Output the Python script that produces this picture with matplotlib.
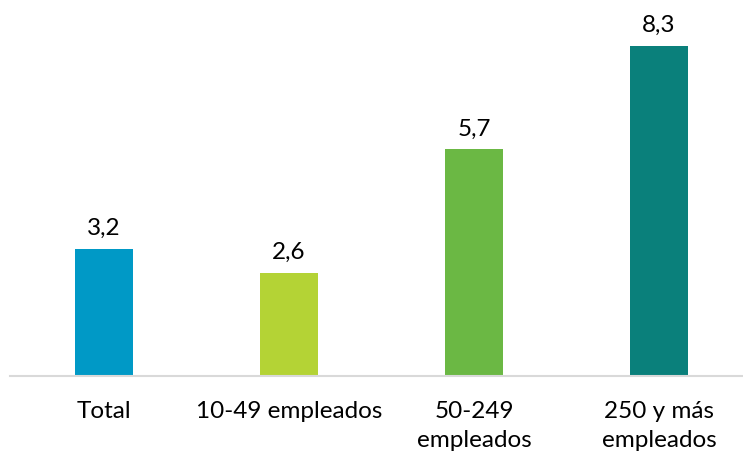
import matplotlib.pyplot as plt

categories = ['Total', '10-49 empleados', '50-249\nempleados', '250 y más\nempleados']
values = [3.2, 2.6, 5.7, 8.3]
colors = ['#0099C6', '#B4D335', '#6BB844', '#0A807B']

plt.rcParams['font.family'] = ['Lato', 'DejaVu Sans']

W, H = 743, 454
fig = plt.figure(figsize=(W / 100, H / 100), dpi=100)
ax = fig.add_axes([10 / W, 78 / H, 733 / W, 358 / H])

x = range(len(categories))
bars = ax.bar(x, values, width=0.315, color=colors, zorder=2)

for xi, v in zip(x, values):
    ax.annotate(f'{v:.1f}'.replace('.', ','), (xi, v), xytext=(0, 7),
                textcoords='offset points', ha='center', va='bottom',
                fontsize=17.5, color='#000000')

ax.set_xlim((10 - 104) / 185, (743 - 104) / 185)
ax.set_ylim(0, 9)
ax.set_xticks(list(x))
ax.set_xticklabels(categories, fontsize=17.5, linespacing=1.45)
ax.tick_params(axis='x', length=0, pad=18)
ax.set_yticks([])
for side in ['top', 'right', 'left']:
    ax.spines[side].set_visible(False)
ax.spines['bottom'].set_color('#D9D9D9')
ax.spines['bottom'].set_linewidth(1.5)

fig.savefig('out.png', dpi=100, facecolor='white')
